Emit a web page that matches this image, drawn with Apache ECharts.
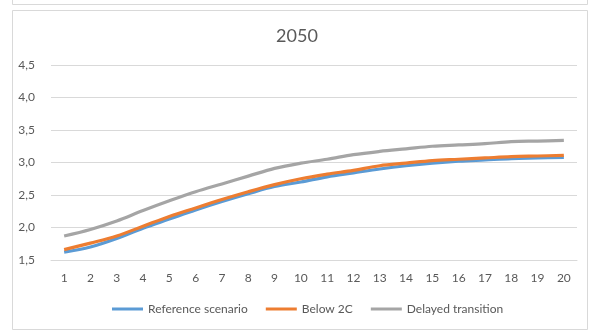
<!DOCTYPE html>
<html>
<head>
<meta charset="utf-8">
<script src="https://cdn.jsdelivr.net/npm/echarts@6/dist/echarts.min.js"></script>
<style>
  html, body { margin: 0; padding: 0; background: #ffffff; }
  #chart { width: 594px; height: 332px; }
</style>
</head>
<body>
<div id="chart"></div>
<script>
// Years 1..20 along the horizontal axis
const categories = ['1','2','3','4','5','6','7','8','9','10','11','12','13','14','15','16','17','18','19','20'];

const referenceScenario = [1.62, 1.70, 1.83, 1.99, 2.13, 2.27, 2.40, 2.52, 2.63, 2.70, 2.78, 2.84, 2.90, 2.95, 2.99, 3.02, 3.04, 3.06, 3.07, 3.08];
const below2C = [1.66, 1.76, 1.87, 2.02, 2.17, 2.30, 2.43, 2.55, 2.66, 2.75, 2.82, 2.88, 2.95, 2.99, 3.03, 3.05, 3.07, 3.09, 3.10, 3.11];
const delayedTransition = [1.87, 1.97, 2.10, 2.26, 2.41, 2.55, 2.67, 2.79, 2.91, 2.99, 3.05, 3.12, 3.17, 3.21, 3.25, 3.27, 3.29, 3.32, 3.33, 3.34];

const seriesNames = ['Reference scenario', 'Below 2C', 'Delayed transition'];
const seriesColors = ['#5B9BD5', '#ED7D31', '#A5A5A5'];

const chart = echarts.init(document.getElementById('chart'), null, { renderer: 'canvas' });

const textColor = '#595959';
const fontFamily = 'Lato, "Open Sans", sans-serif';

function lineSeries(name, data, color) {
  return {
    name: name,
    type: 'line',
    data: data,
    smooth: 0.35,
    symbol: 'none',
    lineStyle: { color: color, width: 3.2 },
    itemStyle: { color: color }
  };
}

chart.setOption({
  backgroundColor: '#ffffff',
  animation: false,
  graphic: [
    // lower edge of the panel above
    { type: 'rect', shape: { x: 12.5, y: -10, width: 575, height: 14.5 },
      style: { fill: 'none', stroke: '#D9D9D9', lineWidth: 1 } },
    // panel frame
    { type: 'rect', shape: { x: 12.5, y: 10.5, width: 575, height: 319 },
      style: { fill: 'none', stroke: '#D9D9D9', lineWidth: 1 }, z: -1 }
  ],
  title: {
    text: '2050',
    left: 'center',
    top: 22,
    textStyle: { color: textColor, fontSize: 18, fontWeight: 'normal', fontFamily: fontFamily }
  },
  legend: {
    data: seriesNames,
    bottom: 12,
    left: 107,
    icon: 'rect',
    itemWidth: 31,
    itemHeight: 3,
    itemGap: 18,
    textStyle: { color: textColor, fontSize: 12, fontFamily: fontFamily }
  },
  grid: { left: 51, right: 17, top: 65, bottom: 72 },
  xAxis: {
    type: 'category',
    data: categories,
    boundaryGap: true,
    axisLine: { show: true, lineStyle: { color: '#D9D9D9', width: 1 } },
    axisTick: { show: false },
    axisLabel: { color: textColor, fontSize: 12, margin: 12, fontFamily: fontFamily }
  },
  yAxis: {
    type: 'value',
    min: 1.5,
    max: 4.5,
    interval: 0.5,
    axisLine: { show: false },
    axisTick: { show: false },
    splitLine: { lineStyle: { color: '#D9D9D9', width: 1 } },
    axisLabel: {
      color: textColor, fontSize: 12, margin: 16, fontFamily: fontFamily,
      formatter: v => v.toFixed(1).replace('.', ',')
    }
  },
  series: [
    lineSeries(seriesNames[0], referenceScenario, seriesColors[0]),
    lineSeries(seriesNames[1], below2C, seriesColors[1]),
    lineSeries(seriesNames[2], delayedTransition, seriesColors[2])
  ]
});
</script>
</body>
</html>
